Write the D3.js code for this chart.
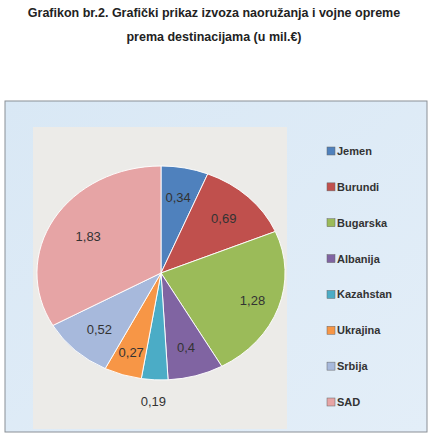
<!DOCTYPE html><html><head><meta charset="utf-8">
<script src="https://cdn.jsdelivr.net/npm/d3@7"></script>
<style>body{margin:0;background:#fff}</style></head><body>
<svg id="c" width="429" height="437"></svg>
<script>
const categories=["Jemen","Burundi","Bugarska","Albanija","Kazahstan","Ukrajina","Srbija","SAD"];
const values=[0.34,0.69,1.28,0.4,0.19,0.27,0.52,1.83];
const labels=["0,34","0,69","1,28","0,4","0,19","0,27","0,52","1,83"];
const colors=["#4f81bd","#c0504d","#9bbb59","#8064a2","#4bacc6","#f79646","#a7b9dc","#e6a4a5"];
const svg=d3.select("#c");
svg.append("text").attr("x",214).attr("y",17).attr("text-anchor","middle").attr("font-family","Liberation Sans, Arial").attr("font-weight","bold").attr("font-size",12.5).attr("fill","#222").text("Grafikon br.2. Grafički prikaz izvoza naoružanja i vojne opreme");
svg.append("text").attr("x",214).attr("y",41).attr("text-anchor","middle").attr("font-family","Liberation Sans, Arial").attr("font-weight","bold").attr("font-size",12.5).attr("fill","#222").text("prema destinacijama (u mil.€)");
const defs=svg.append("defs");
const g1=defs.append("linearGradient").attr("id","bg").attr("x1",0).attr("y1",0).attr("x2",1).attr("y2",1);
g1.append("stop").attr("offset",0).attr("stop-color","#d9e8f5");g1.append("stop").attr("offset",1).attr("stop-color","#e3eef8");
svg.append("rect").attr("x",5).attr("y",101).attr("width",422).attr("height",331).attr("fill","url(#bg)").attr("stroke","#8a8f96").attr("stroke-width",1);
svg.append("rect").attr("x",33).attr("y",127).attr("width",254).attr("height",302).attr("fill","#ecebe8");
const cx=161,cy=273,rx=124,ry=107;
const pie=d3.pie().sort(null).value(d=>d)(values);
const arc=d3.arc().innerRadius(0).outerRadius(1);
const pg=svg.append("g").attr("transform",`translate(${cx},${cy}) scale(${rx},${ry})`);
pg.selectAll("path").data(pie).join("path").attr("d",arc).attr("fill",(d,i)=>colors[i]).attr("stroke","#fff").attr("stroke-width",0.008);
const lf=[0.72,0.72,0.78,0.72,1.2,0.78,0.72,0.68];
svg.selectAll("text.v").data(pie).join("text").attr("class","v")
 .attr("x",(d,i)=>{const a=(d.startAngle+d.endAngle)/2;return cx+Math.sin(a)*rx*lf[i];})
 .attr("y",(d,i)=>{const a=(d.startAngle+d.endAngle)/2;return cy-Math.cos(a)*ry*lf[i]+5;})
 .attr("text-anchor","middle").attr("font-family","Liberation Sans, Arial").attr("font-size",13).attr("fill","#333").text((d,i)=>labels[i]);
const lg=svg.append("g");
const y=d3.scalePoint().domain(categories).range([151,402]);
categories.forEach((c,i)=>{
 lg.append("rect").attr("x",327).attr("y",y(c)-4).attr("width",8).attr("height",8).attr("fill",colors[i]).attr("stroke","#666").attr("stroke-width",0.5);
 lg.append("text").attr("x",337).attr("y",y(c)+4).attr("font-family","Liberation Sans, Arial").attr("font-weight","bold").attr("font-size",11).attr("fill","#333").text(c);
});
</script></body></html>
